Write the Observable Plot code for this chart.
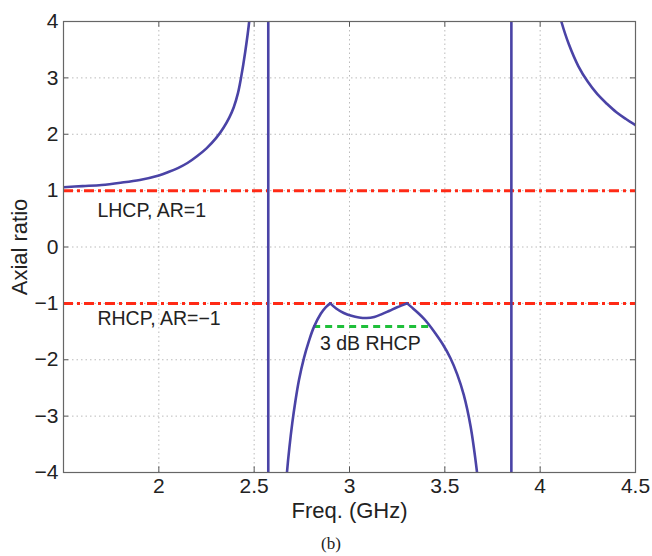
<!DOCTYPE html>
<html>
<head>
<meta charset="utf-8">
<script src="https://cdn.jsdelivr.net/npm/d3@7"></script>
<script src="https://cdn.jsdelivr.net/npm/@observablehq/plot@0.6"></script>
<style>
  body { margin: 0; background: #fff; }
  #caption { width: 652px; height: 26px; font-family: "Liberation Serif", "DejaVu Serif", serif; font-size: 17px; color: #222; padding-left: 321px; box-sizing: border-box; line-height: 28px; }
</style>
</head>
<body>
<div id="chart"></div>
<div id="caption">(b)</div>
<script>
// Frequency (GHz) samples and axial-ratio values
const freq = [1.5, 1.6, 1.7, 1.8, 1.9, 2.0, 2.05, 2.1, 2.15, 2.2, 2.25, 2.3, 2.34, 2.37, 2.393, 2.415, 2.431, 2.453, 2.474, 2.5, 2.53, 2.555, 2.568, 2.573,
  2.575, 2.59, 2.62, 2.65, 2.672, 2.685, 2.70, 2.716, 2.735, 2.761, 2.787, 2.812, 2.85, 2.875, 2.899,
  2.93, 2.97, 3.01, 3.05, 3.09, 3.13, 3.17, 3.21, 3.25, 3.302,
  3.33, 3.36, 3.39, 3.415, 3.45, 3.49, 3.529, 3.565, 3.599, 3.635, 3.669, 3.70, 3.75, 3.80, 3.835, 3.848,
  3.850, 3.87, 3.92, 3.98, 4.05, 4.111, 4.15, 4.2, 4.25, 4.3, 4.35, 4.4, 4.45, 4.5];
const axialRatio = [1.06, 1.08, 1.10, 1.14, 1.19, 1.27, 1.33, 1.40, 1.49, 1.61, 1.75, 1.93, 2.12, 2.30, 2.48, 2.73, 3.0, 3.46, 4.0, 5.0, 7, 12, 30, 200,
  -200, -25, -8, -5.0, -4.0, -3.55, -3.12, -2.74, -2.36, -1.97, -1.67, -1.43, -1.18, -1.07, -1.0,
  -1.09, -1.17, -1.22, -1.25, -1.26, -1.24, -1.19, -1.13, -1.07, -1.0,
  -1.08, -1.17, -1.27, -1.37, -1.53, -1.73, -1.97, -2.26, -2.62, -3.18, -4.0, -5.0, -7, -12, -30, -200,
  200, 15, 8.5, 6.2, 4.8, 4.0, 3.6, 3.21, 2.93, 2.71, 2.54, 2.39, 2.27, 2.16];
// Frequencies where the trace has a jump or a cusp (pieces are smoothed between them)
const breakFreq = [1.5, 2.573, 2.575, 2.899, 3.302, 3.848, 3.850, 4.5];

// Reference levels
const circularLevels = [1, -1];
const threeDbLevel = [-1.41];
const threeDbBand = [2.812, 3.424];

// Annotations
const leftLabels = ["LHCP, AR=1", "RHCP, AR=\u22121"];
const leftLabelX = [1.678, 1.678];
const leftLabelY = [0.64, -1.27];
const bandLabel = ["3 dB RHCP"];
const bandLabelX = [3.109];
const bandLabelY = [-1.71];

// Ticks
const xTicks = [2, 2.5, 3, 3.5, 4, 4.5];
const yTicks = [-4, -3, -2, -1, 0, 1, 2, 3, 4];

const curve = freq.map((f, i) => ({f, ar: axialRatio[i]}));
const pieces = d3.pairs(breakFreq).map(([lo, hi]) => curve.filter(d => d.f >= lo && d.f <= hi));
const fmt = d3.format("");
const textStyle = {fill: "#222", fontSize: 19.5, style: "letter-spacing:0.5px"};

const chart = Plot.plot({
  width: 652,
  height: 530,
  marginLeft: 63,
  marginRight: 17,
  marginTop: 21,
  marginBottom: 58,
  style: {fontFamily: "'Liberation Sans', Arial, Helvetica, sans-serif", color: "#222", background: "#fff"},
  x: {domain: [1.5, 4.5]},
  y: {domain: [-4, 4]},
  marks: [
    Plot.gridX(xTicks, {stroke: "#aaa", strokeOpacity: 0.8, strokeDasharray: "1.5,3"}),
    Plot.gridY(yTicks, {stroke: "#aaa", strokeOpacity: 0.8, strokeDasharray: "1.5,3"}),
    // inner tick marks on all four sides
    Plot.ruleX(xTicks, {x: d => d, y1: -4, y2: -3.9, stroke: "#555"}),
    Plot.ruleX(xTicks, {x: d => d, y1: 4, y2: 3.9, stroke: "#555"}),
    Plot.ruleY(yTicks, {y: d => d, x1: 1.5, x2: 1.527, stroke: "#555"}),
    Plot.ruleY(yTicks, {y: d => d, x1: 4.5, x2: 4.473, stroke: "#555"}),
    Plot.axisX(xTicks, {tickSize: 0, tickPadding: 6, fontSize: 21, tickFormat: fmt, label: null}),
    Plot.axisY(yTicks, {tickSize: 0, tickPadding: 5, fontSize: 21, tickFormat: fmt, label: null}),
    Plot.ruleY(circularLevels, {stroke: "#ff2a16", strokeWidth: 3, strokeDasharray: "10,4,3,4"}),
    Plot.ruleY(threeDbLevel, {y: d => d, x1: threeDbBand[0], x2: threeDbBand[1], stroke: "#1fbf3a", strokeWidth: 3.2, strokeDasharray: "7,5"}),
    ...pieces.map(p => Plot.line(p, {x: "f", y: "ar", stroke: "#4a43a6", strokeWidth: 2.6, clip: true, curve: p.length > 2 ? "catmull-rom" : "linear"})),
    Plot.text(leftLabels, {x: (d, i) => leftLabelX[i], y: (d, i) => leftLabelY[i], text: d => d, textAnchor: "start", ...textStyle}),
    Plot.text(bandLabel, {x: (d, i) => bandLabelX[i], y: (d, i) => bandLabelY[i], text: d => d, textAnchor: "middle", ...textStyle}),
    Plot.text(["Freq. (GHz)"], {frameAnchor: "bottom", dy: 38, lineAnchor: "middle", textAnchor: "middle", fontSize: 22, fill: "#222"}),
    Plot.text(["Axial ratio"], {frameAnchor: "left", dx: -44, rotate: -90, lineAnchor: "middle", textAnchor: "middle", fontSize: 22, fill: "#222"}),
    Plot.frame({stroke: "#666", strokeWidth: 1.2})
  ]
});
document.getElementById("chart").appendChild(chart);
</script>
</body>
</html>
